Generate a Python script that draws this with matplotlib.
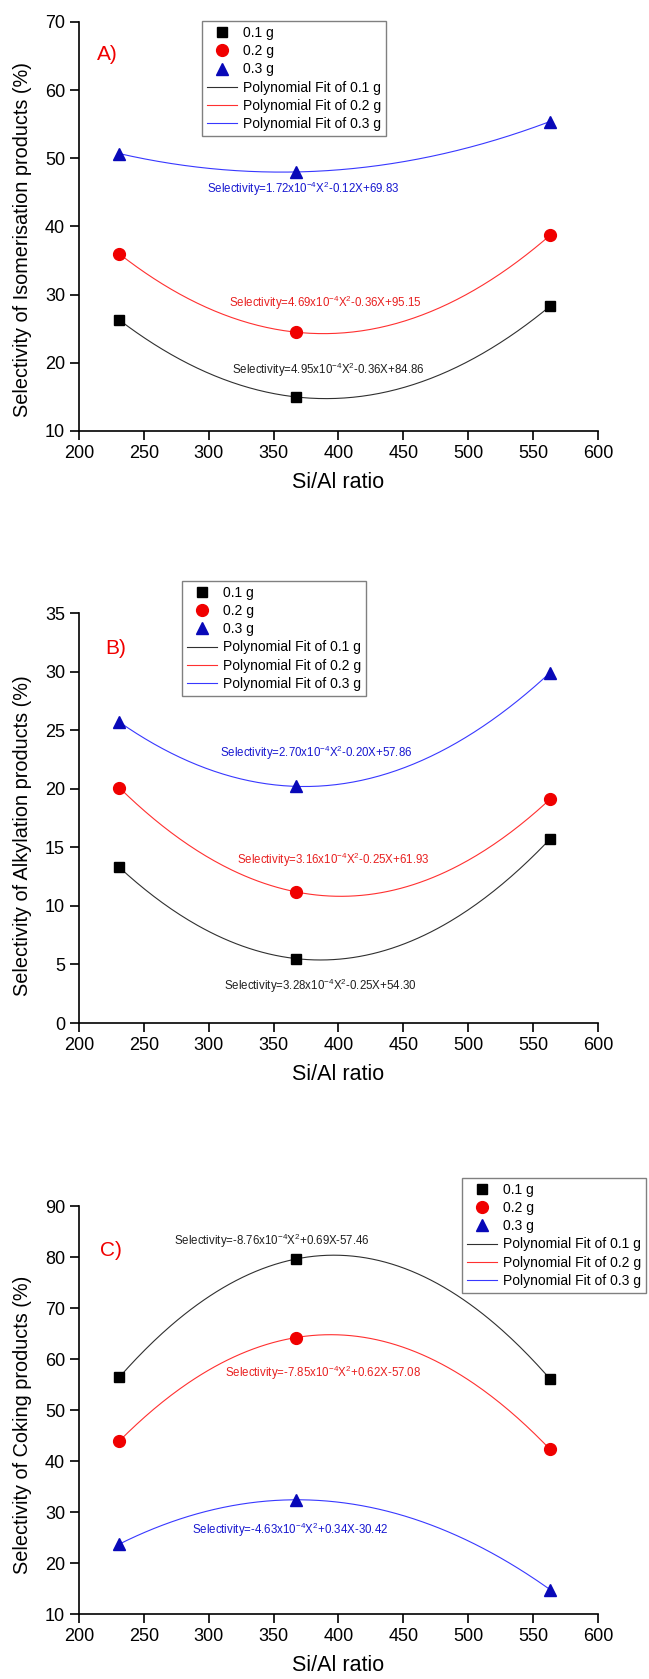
import matplotlib
matplotlib.use("Agg")
import matplotlib.pyplot as plt
import numpy as np

plt.rcParams['font.family'] = ['Liberation Sans', 'DejaVu Sans']
plt.rcParams['mathtext.fontset'] = 'custom'
plt.rcParams['mathtext.rm'] = 'Liberation Sans'
plt.rcParams['mathtext.it'] = 'Liberation Sans'

# Si/Al ratio of the three catalysts
si_al = [231, 367, 563]
loadings = ["0.1 g", "0.2 g", "0.3 g"]

# selectivity (%) per catalyst loading
iso_01 = [26.3, 15.0, 28.3]
iso_02 = [36.0, 24.5, 38.7]
iso_03 = [50.7, 48.0, 55.4]

alk_01 = [13.3, 5.5, 15.7]
alk_02 = [20.1, 11.2, 19.1]
alk_03 = [25.7, 20.2, 29.9]

cok_01 = [56.4, 79.6, 56.1]
cok_02 = [43.9, 64.2, 42.3]
cok_03 = [23.7, 32.4, 14.8]

iso_eq = ["Selectivity=4.95x10$^{-4}$X$^{2}$-0.36X+84.86",
          "Selectivity=4.69x10$^{-4}$X$^{2}$-0.36X+95.15",
          "Selectivity=1.72x10$^{-4}$X$^{2}$-0.12X+69.83"]
alk_eq = ["Selectivity=3.28x10$^{-4}$X$^{2}$-0.25X+54.30",
          "Selectivity=3.16x10$^{-4}$X$^{2}$-0.25X+61.93",
          "Selectivity=2.70x10$^{-4}$X$^{2}$-0.20X+57.86"]
cok_eq = ["Selectivity=-8.76x10$^{-4}$X$^{2}$+0.69X-57.46",
          "Selectivity=-7.85x10$^{-4}$X$^{2}$+0.62X-57.08",
          "Selectivity=-4.63x10$^{-4}$X$^{2}$+0.34X-30.42"]

marker_colors = ["black", "#f00000", "#0808b8"]
line_colors = ["#303030", "#ff3030", "#3838ff"]
eq_colors = ["#202020", "#e82020", "#1818d0"]
markers = ["s", "o", "^"]
msizes = [7.8, 8.5, 9]

panels = [
    {"tag": "A)", "ylabel": "Selectivity of Isomerisation products (%)",
     "series": [iso_01, iso_02, iso_03], "eqs": iso_eq,
     "eq_pos": [(392, 19.0), (390, 28.8), (373, 45.5)],
     "tag_pos": (222, 65.3), "ylim": (10, 70), "yticks": np.arange(10, 71, 10),
     "rect": [0.1217, 0.7433, 0.7997, 0.2436],
     "leg": (0.237, 1.002), "ylab_y": 0.467},
    {"tag": "B)", "ylabel": "Selectivity of Alkylation products (%)",
     "series": [alk_01, alk_02, alk_03], "eqs": alk_eq,
     "eq_pos": [(386, 3.2), (396, 13.9), (383, 23.1)],
     "tag_pos": (228, 32.0), "ylim": (0, 35), "yticks": np.arange(0, 36, 5),
     "rect": [0.1217, 0.3907, 0.7997, 0.2442],
     "leg": (0.1985, 1.078), "ylab_y": 0.457},
    {"tag": "C)", "ylabel": "Selectivity of Coking products (%)",
     "series": [cok_01, cok_02, cok_03], "eqs": cok_eq,
     "eq_pos": [(349, 83.1), (388, 57.3), (363, 26.5)],
     "tag_pos": (225, 81.2), "ylim": (10, 90), "yticks": np.arange(10, 91, 10),
     "rect": [0.1217, 0.0387, 0.7997, 0.2430],
     "leg": (0.738, 1.0686), "ylab_y": 0.464},
]

fig = plt.figure(figsize=(6.49, 16.79), dpi=100)

for p in panels:
    ax = fig.add_axes(p["rect"])
    xs = np.array(si_al, dtype=float)
    xfit = np.linspace(xs.min(), xs.max(), 200)
    pts = []
    fits = []
    for i, ys in enumerate(p["series"]):
        coef = np.polyfit(xs, ys, 2)
        l, = ax.plot(xfit, np.polyval(coef, xfit), color=line_colors[i], lw=0.8,
                     label="Polynomial Fit of " + loadings[i], zorder=2)
        fits.append(l)
        m, = ax.plot(xs, ys, ls="none", marker=markers[i], ms=msizes[i],
                     color=marker_colors[i], label=loadings[i], zorder=3)
        pts.append(m)
        ex, ey = p["eq_pos"][i]
        ax.text(ex, ey, p["eqs"][i], color=eq_colors[i], fontsize=8.3,
                ha="center", va="center")

    ax.text(p["tag_pos"][0], p["tag_pos"][1], p["tag"], color="#f00000",
            fontsize=15, ha="center", va="center")

    ax.set_xlim(200, 600)
    ax.set_ylim(*p["ylim"])
    ax.set_xticks(np.arange(200, 601, 50))
    ax.set_yticks(p["yticks"])
    for s in ["top", "right"]:
        ax.spines[s].set_visible(False)
    for s in ["left", "bottom"]:
        ax.spines[s].set_linewidth(1.2)
    ax.tick_params(direction="out", length=6.5, width=1.2, labelsize=13, pad=3.5)
    ax.set_ylabel(p["ylabel"], fontsize=14.3)
    ax.yaxis.set_label_coords(-0.09, p["ylab_y"])
    ax.set_xlabel("Si/Al ratio", fontsize=15.5, labelpad=7)

    leg = ax.legend(pts + fits, [h.get_label() for h in pts + fits],
                    loc="upper left", bbox_to_anchor=p["leg"], borderaxespad=0,
                    fontsize=10, fancybox=False, framealpha=1, edgecolor="#808080",
                    handlelength=2.2, handletextpad=0.4, labelspacing=0.3,
                    borderpad=0.35, numpoints=1)
    leg.get_frame().set_linewidth(1.0)
    leg.set_clip_on(False)

fig.savefig("out.png", dpi=100)
